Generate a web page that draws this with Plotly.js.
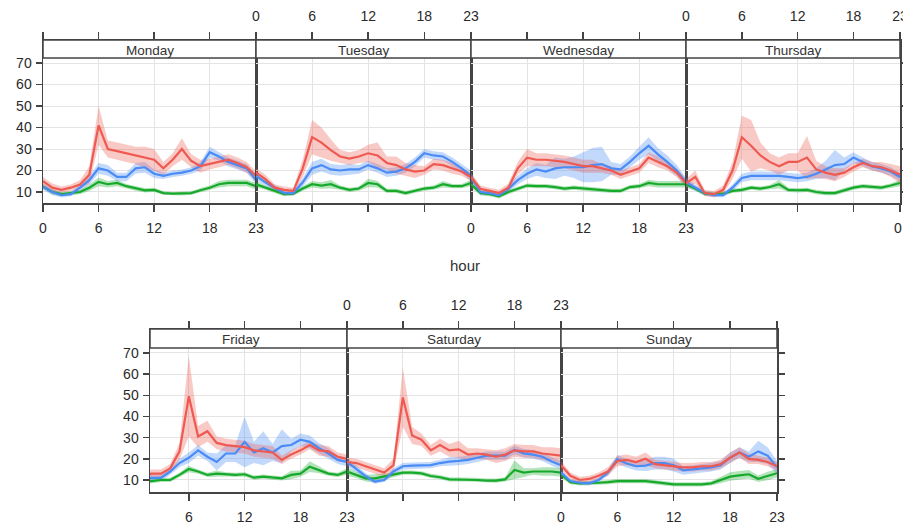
<!DOCTYPE html>
<html><head><meta charset="utf-8">
<script src="https://cdn.plot.ly/plotly-3.0.1.min.js"></script>
<style>html,body{margin:0;padding:0;background:#fff}#chart{width:903px;height:529px}</style>
</head><body><div id="chart"></div>
<script>
// ---------------- DATA ----------------
const hours = [0,1,2,3,4,5,6,7,8,9,10,11,12,13,14,15,16,17,18,19,20,21,22,23];
const days = ['Monday','Tuesday','Wednesday','Thursday','Friday','Saturday','Sunday'];
const xTickVals = [0,6,12,18,23];
const yTickVals = [10,20,30,40,50,60,70];

// red series (per day, Monday..Sunday)
const redMean = [
  [15,12,11,12,13.5,18,41,30,29,28,27,26,25,21,25,30,24.5,22,23,24,25,23.5,21.5,17.5],
  [19,16,12,11,10.5,21,35.5,33,29.5,26.5,25.5,26.5,28,27,23.5,22.5,20.5,19.5,20,23,22.5,21,19.5,17],
  [17,11.5,10.5,9.5,12,21,26,25,25,24.5,24,23,22,22,21,20,18,19.5,21,26,24,22,19,14],
  [14,17,9.5,9,11,20,35.5,31.5,27,24,22,24,24,26,20.5,19,18,19,21.5,23.5,22,21.5,20,18],
  [12,12,13,13,15.5,23.5,49.5,30.5,33,27.5,26.5,26,25.5,24,23.5,23,19.5,22,24,26.5,24,23.5,21,20],
  [18.5,18,16.5,15,13.5,17,49,31,29,24,26.5,24,24.5,22,22.5,22,21,22,24,23.5,23.5,22.5,22,21.5],
  [17,12,10,10.5,12,14,19,19.5,18.5,20,17.5,17,16.5,16,16,16.5,16.5,17.5,20.5,23,20,19.5,18.5,16.5]
];
const redErr = [
  [2,2,1.5,1.5,2,4,9,4,4,4,4,5,5,3,3,5,3,3,2.5,2.5,2.5,2.5,2.5,2],
  [2,2,1.5,1.5,1.5,4,8,7,5,3,3,3,4,6,3,4,3,3,2,2.5,2.5,2.5,2,2],
  [2,1.5,1.5,1.5,2,3,4,3,3,3,3,3,3,3,2,2,2,2,2,2.5,2.5,2,2,2],
  [2,3,1.5,1.5,2,4,10,12,6,4,4,4,4,10,4,3,3,2,2,2,2,2.5,3,4],
  [2,2,2,2,2,4,19,5,5,3,3,3,3,3,3,3,2,2,2,2,2.5,2.5,2,2],
  [2,2,2,2,2,3,14,4,3,2.5,3,3,4,3,2.5,2.5,3,3,3,3,3,3,3.5,3.5],
  [2,1.5,1.5,1.5,1.5,2,2.5,2.5,2.5,3,2,2,2,2,2,2,2,2,2.5,2.5,2.5,2,2,2]
];
// blue series
const blueMean = [
  [12.5,10,8.5,9,12,15.5,21,20,17,17,21,21.5,18.5,17.5,18.5,19,20,22,28.5,26.5,24,22.5,21,15.5],
  [17.5,14.5,12,9.5,9.5,14.5,21,22.5,20.5,20,20.5,20.5,22.5,21,19,19.5,21,24,28,27,26.5,24,21,17.5],
  [17,10,9.5,8.5,11.5,15.5,18.5,20.5,19.5,21,21.5,21.5,21.5,22.5,23,21,20.5,24,28,31.5,27.5,24,20,14.5],
  [14.5,12,9.5,8.5,8.5,12,16.5,17.5,17.5,17.5,17.5,17,16.5,17,18.5,20.5,22.5,23,26,24,22,21,19.5,17],
  [10,10,11,11,14,18,20.5,24,21,18.5,22.5,22.5,28,23,25,23,26,26.5,29,28,25,22.5,19.5,18.5],
  [18.5,15.2,11.8,9.2,10,14,16.5,16.8,16.8,17,18,18.7,19,19.5,20.5,21.5,21.5,21.5,24.2,22.6,22,21,18.7,17],
  [13.5,9.5,8.7,8.4,10,13.5,19.8,17.8,16.5,16.8,18,18,17,14.5,15,15.5,16,17,20.5,23,21,23.5,21.5,16]
];
const blueErr = [
  [1.5,1.5,1,1,1.5,2,2.5,2.5,2,2,2.5,2.5,2,1.5,1.5,1.5,1.5,2,2.5,2,2,2,2,2],
  [2,1.5,1.5,1,1,2,3,3,2.5,2.5,2.5,2,2,2,2,2,2,2,2,2,2,2,2,2.5],
  [2,1.5,1,1,1.5,2,2.5,3,3,5,4,5,7,8,8,3,2.5,2.5,3,4,3,3,2.5,2],
  [2,1.5,1,1,1,1.5,2,2,2,2,2,2,2,2,2.5,4,7,3,2.5,2,2,2,2,2],
  [1.5,1.5,1.5,1.5,1.5,2,2.5,2.5,2,4,4,4,12,5,8,4,8,3,3,3,2.5,2.5,2,2],
  [2,1.5,1.5,1,1,1.5,1.5,1.5,1.5,1.5,1.5,2,2,2,2,2,2,2,2,2,2,2,2,2],
  [1.5,1,1,1,1,1.5,2,2,2,2.5,3,3,3,2,2,2,2,2,2.5,2.5,2.5,5,4,3]
];
// green series
const greenMean = [
  [12.5,10,9,9.5,10,12,14.7,13.6,14.2,12.7,11.6,10.8,11,9.5,9.2,9.2,9.5,10.8,12,13.6,14.2,14.2,14.2,12.7],
  [13.6,12,10.5,9,9.2,11.6,13.6,13,13.6,12,11,11.6,14.2,13.6,10.5,10.5,9.5,10.5,11.6,12,13.6,12.7,12.7,14.2],
  [13.6,9.5,9,8,10,11.6,13,12.7,12.7,12.3,11.6,12,11.6,11,10.8,10.5,10.5,12.3,12.7,14.2,13.6,13.6,13.6,13.6],
  [13.6,11.6,9.2,9,9.2,10.5,11,12,11.6,12.3,13.6,11,10.8,11,10,9.5,9.5,10.8,12,12.7,12.3,12,13,14.2],
  [9.5,9.5,9.5,10,10,12.4,15.2,14,12.4,13,12.7,12.4,12.7,11.1,11.6,11.1,10.8,12.4,13,16.3,14.7,13,12.4,14],
  [14,12.4,10.8,10.8,11.6,12.4,13.5,13.5,13.1,11.9,11.3,10.3,10.3,10.3,10,9.7,9.7,10.3,14.7,13.5,14,14,14,13.5],
  [12.7,9,8.4,8.4,8.7,9,9.5,9.5,9.5,9.5,9,8.4,7.9,7.9,7.9,7.9,8.4,10,11.6,12.2,12.7,10.6,11.9,13.2]
];
const greenErr = [
  [1,1,1,1,1,1.5,2,1.5,1.5,1,1,1,1,0.8,0.8,0.8,0.8,1,1,1.5,1.5,1.5,1.5,1.5],
  [1.5,1,1,1,1,1,1.5,1.5,2,1,1,1,2,1.5,1,1,1,1,1,1,1.5,1,1,1.5],
  [1.5,1,1,1,1,1,1,1,1,1,1,1,1,1,1,1,1,1,1,1.5,1.5,1.5,1.5,1.5],
  [1.5,1,1,1,1,1,1,1,1,1,2,1,1,1,1,1,1,1,1,1,1,1,1,1.5],
  [1,1,1,1,1,1,1.5,1,1,1.5,1,1,1,1,1,1,1,2,1.5,2.5,1.5,1,1,1.5],
  [2,1.5,1.5,2,1.5,1,1,1,1,1,1,1,1,1,1,1,1,1,4.5,2,1.5,2,2,2],
  [1.5,1,1,1,1,1,1,1,1,1,1,1,1,1,1,1,1,1.5,2,2,2,1.5,2,2]
];

// ---------------- LAYOUT GEOMETRY (pixels) ----------------
const W = 903, H = 529;
const panels = [
  {x0:43,  x1:256, top:40,  strip:58,  bot:203, xr:[0,23],    yr:[4.88,80.7], lab:'bottom', yt:'left'},
  {x0:256, x1:471, top:40,  strip:58,  bot:203, xr:[0,23],    yr:[4.88,80.7], lab:'top',    yt:''},
  {x0:471, x1:686, top:40,  strip:58,  bot:203, xr:[0,23],    yr:[4.88,80.7], lab:'bottom', yt:''},
  {x0:686, x1:900, top:40,  strip:58,  bot:203, xr:[0,23],    yr:[4.88,80.7], lab:'top',    yt:'right'},
  {x0:150, x1:347, top:329, strip:348, bot:492, xr:[1.83,23], yr:[4.33,81.3], lab:'bottom', yt:'left'},
  {x0:347, x1:561, top:329, strip:348, bot:492, xr:[0,23],    yr:[4.33,81.3], lab:'top',    yt:''},
  {x0:561, x1:777, top:329, strip:348, bot:492, xr:[0,23],    yr:[4.33,81.3], lab:'bottom', yt:'right'}
];
const px = v => v / W;
const py = v => 1 - v / H;

const series = [
  {mean: greenMean, err: greenErr, line: '#17A92B', fill: 'rgba(23,169,43,0.33)'},
  {mean: blueMean,  err: blueErr,  line: '#4A8BF5', fill: 'rgba(74,139,245,0.33)'},
  {mean: redMean,   err: redErr,   line: '#EE5A52', fill: 'rgba(238,90,82,0.33)'}
];

const tickFont = {family: 'Liberation Sans, Arial, sans-serif', size: 14, color: '#2a2a2a'};
const traces = [];
const layout = {
  width: W, height: H,
  margin: {l:0, r:0, t:0, b:0},
  paper_bgcolor: '#fff', plot_bgcolor: '#fff',
  showlegend: false,
  font: {family: 'Liberation Sans, Arial, sans-serif', size: 13, color: '#333'},
  shapes: [], annotations: []
};

panels.forEach((p, i) => {
  const xa = 'x' + (i ? i + 1 : ''), ya = 'y' + (i ? i + 1 : '');
  const xk = 'xaxis' + (i ? i + 1 : ''), yk = 'yaxis' + (i ? i + 1 : '');
  series.forEach(s => {
    const m = s.mean[i], e = s.err[i];
    const up = m.map((v, k) => v + e[k]);
    const lo = m.map((v, k) => v - e[k]);
    traces.push({
      x: hours.concat(hours.slice().reverse()),
      y: up.concat(lo.slice().reverse()),
      type: 'scatter', mode: 'lines', fill: 'toself',
      fillcolor: s.fill, line: {width: 0, color: s.fill},
      hoverinfo: 'skip', xaxis: xa, yaxis: ya
    });
  });
  series.forEach(s => {
    traces.push({
      x: hours, y: s.mean[i], type: 'scatter', mode: 'lines',
      line: {color: s.line, width: 2.2}, xaxis: xa, yaxis: ya
    });
  });
  layout[xk] = {
    domain: [px(p.x0), px(p.x1)], anchor: ya, range: p.xr,
    tickvals: xTickVals, ticktext: xTickVals.map(String),
    ticks: 'outside', ticklen: 7, tickwidth: 1.5, tickcolor: '#444',
    showline: true, linecolor: '#444', linewidth: 1.5, mirror: 'ticks',
    side: p.lab, showgrid: true, gridcolor: '#e4e4e4', gridwidth: 1,
    zeroline: false, tickfont: tickFont, fixedrange: true,
    ticklabelstandoff: 5, ticklabeloverflow: 'allow'
  };
  const yax = {
    domain: [py(p.bot), py(p.top)], anchor: xa, range: p.yr,
    tickvals: yTickVals, showgrid: true, gridcolor: '#e4e4e4', gridwidth: 1,
    zeroline: false, showline: true, linecolor: '#444', linewidth: 1.5, mirror: true,
    ticks: '', showticklabels: false, fixedrange: true,
    tickfont: tickFont
  };
  if (p.yt === 'left') { yax.ticks = 'outside'; yax.ticklen = 6; yax.tickwidth = 1.5; yax.tickcolor = '#444'; yax.showticklabels = true; yax.side = 'left'; yax.ticklabelstandoff = 1; }
  if (p.yt === 'right') { yax.ticks = 'outside'; yax.ticklen = 6; yax.tickwidth = 1.5; yax.tickcolor = '#444'; yax.side = 'right'; }
  layout[yk] = yax;
  // strip
  layout.shapes.push({
    type: 'rect', xref: 'paper', yref: 'paper', layer: 'above',
    x0: px(p.x0), x1: px(p.x1), y0: py(p.strip), y1: py(p.top),
    fillcolor: '#ffffff', line: {color: '#444', width: 1.5}
  });
  layout.annotations.push({
    xref: 'paper', yref: 'paper', x: px(i === 4 ? 241 : (p.x0 + p.x1) / 2), y: py((p.top + p.strip) / 2 + 1),
    text: days[i], showarrow: false, xanchor: 'center', yanchor: 'middle',
    font: {family: 'Liberation Sans, Arial, sans-serif', size: 13.5, color: '#333'}
  });
});

layout.annotations.push({
  xref: 'paper', yref: 'paper', x: px(465), y: py(265), text: 'hour',
  showarrow: false, xanchor: 'center', yanchor: 'middle', font: {size: 15, color: '#333'}
});
layout.annotations.push({
  xref: 'paper', yref: 'paper', x: px(898), y: py(228), text: '0',
  showarrow: false, xanchor: 'center', yanchor: 'middle', font: tickFont
});

Plotly.newPlot('chart', traces, layout, {displayModeBar: false, staticPlot: true});
</script>
</body></html>
